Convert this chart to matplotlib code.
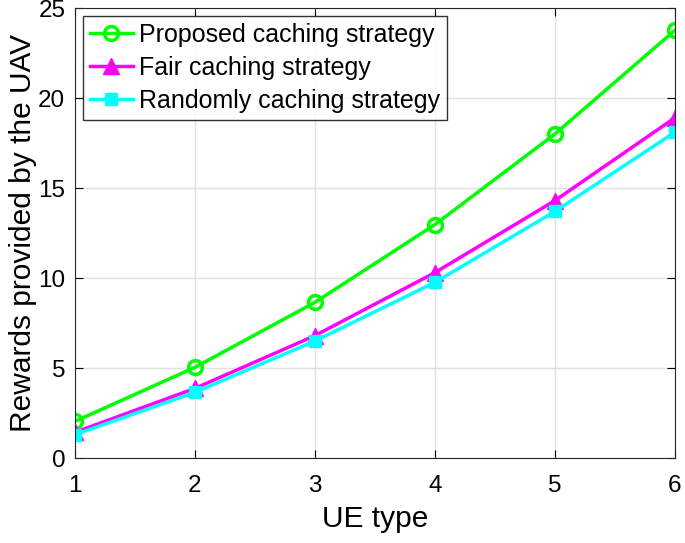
import matplotlib
matplotlib.use("Agg")
import matplotlib.pyplot as plt

# data
ue_type = [1, 2, 3, 4, 5, 6]
proposed = [2.04, 5.04, 8.65, 12.97, 18.0, 23.76]
fair = [1.43, 3.87, 6.8, 10.3, 14.3, 18.9]
randomly = [1.3, 3.65, 6.5, 9.76, 13.7, 18.1]

plt.rcParams["font.family"] = ["Liberation Sans", "DejaVu Sans"]

fig = plt.figure(figsize=(6.85, 5.43), dpi=100)
ax = fig.add_axes([0.1095, 0.1565, 0.8755, 0.8285])

ax.plot(ue_type, proposed, color="#00ff00", lw=2.5, marker="o", ms=10,
        mfc="none", mew=2.5, label="Proposed caching strategy")
ax.plot(ue_type, fair, color="#ff00ff", lw=2.5, marker="^", ms=11,
        label="Fair caching strategy")
ax.plot(ue_type, randomly, color="#00ffff", lw=2.5, marker="s", ms=8,
        label="Randomly caching strategy")

ax.set_xlim(1, 6)
ax.set_ylim(0, 25)
ax.set_xticks(ue_type)
ax.set_yticks([0, 5, 10, 15, 20, 25])
ax.grid(True, color="#e0e0e0", lw=1)
ax.set_axisbelow(True)
ax.tick_params(direction="in", labelsize=17.5, length=6, top=True, right=True)
ax.tick_params(axis="x", pad=12)
ax.tick_params(axis="y", pad=7)
for s in ax.spines.values():
    s.set_color("#262626")

ax.set_xlabel("UE type", fontsize=21.5, labelpad=6)
ax.set_ylabel("Rewards provided by the UAV", fontsize=21.5, labelpad=1)

leg = ax.legend(loc="upper left", fontsize=18, frameon=True, fancybox=False,
                edgecolor="black", handlelength=1.7, borderaxespad=0.3,
                labelspacing=0.35, handletextpad=0.25, borderpad=0.3)
leg.get_frame().set_linewidth(1)

fig.savefig("out.png", dpi=100)
